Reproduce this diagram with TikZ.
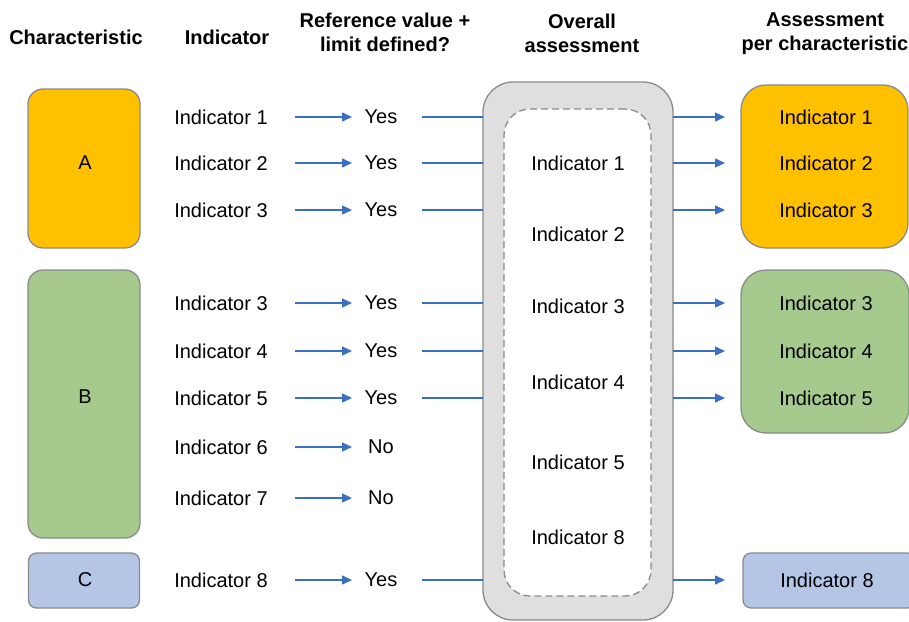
\documentclass[tikz,border=0pt]{standalone}
\usepackage{fontspec}
\setmainfont{Liberation Sans}
\usetikzlibrary{arrows.meta}
\definecolor{orng}{HTML}{FFC000}
\definecolor{grn}{HTML}{A6C98E}
\definecolor{blu}{HTML}{B4C5E6}
\definecolor{bord}{HTML}{8A8A8A}
\definecolor{arrblue}{HTML}{3A6FC4}
\definecolor{panel}{HTML}{DFDFDF}
\tikzset{
  txt/.style={inner sep=0pt, outer sep=0pt, font=\fontsize{20}{24}\selectfont},
  hdr/.style={inner sep=0pt, outer sep=0pt, align=center, font=\fontsize{20}{24}\selectfont\bfseries},
  cbox/.style={draw=bord, line width=1.3pt, inner sep=0pt, outer sep=0pt},
  indlab/.style={txt, minimum width=148pt},
  ynlab/.style={txt, minimum width=58pt},
  arr/.style={draw=arrblue, line width=1.4pt, -{Triangle[length=10pt,width=9pt]}},
  ln/.style={draw=arrblue, line width=1.4pt}
}
\begin{document}
\begin{tikzpicture}[x=1pt,y=-1pt]
\useasboundingbox (0,0) rectangle (909,621);
\clip (0,0) rectangle (909,621);

% headers
\node[hdr] (h1) at (76,37) {Characteristic};
\node[hdr] (h2) at (227,37) {Indicator};
\node[hdr] (h3) at (385,32) {Reference value +\\limit defined?};
\node[hdr] (h4) at (582,33) {Overall\\assessment};
\node[hdr] (h5) at (825,34) {Assessment\\per characteristic};

% left characteristic boxes
\node[cbox, fill=orng, rounded corners=15pt, minimum width=112pt, minimum height=159pt] (bA) at (84,168.5) {};
\node[txt] (tA) at (85,163) {A};
\node[cbox, fill=grn, rounded corners=15pt, minimum width=112pt, minimum height=268pt] (bB) at (84,404) {};
\node[txt] (tB) at (85,397) {B};
\node[cbox, fill=blu, rounded corners=8pt, minimum width=111pt, minimum height=55pt] (bC) at (84,580.5) {};
\node[txt] (tC) at (85,580) {C};

% overall assessment panel
\node[cbox, fill=panel, rounded corners=30pt, minimum width=190pt, minimum height=538pt] (ov) at (578,351) {};
\node[draw=bord, line width=1.3pt, dash pattern=on 7pt off 4pt, fill=white, rounded corners=26pt, minimum width=147pt, minimum height=487pt, inner sep=0pt] (inn) at (577.5,352.5) {};
\node[txt] (m1) at (578,163) {Indicator 1};
\node[txt] (m2) at (578,234) {Indicator 2};
\node[txt] (m3) at (578,306) {Indicator 3};
\node[txt] (m4) at (578,382) {Indicator 4};
\node[txt] (m5) at (578,462) {Indicator 5};
\node[txt] (m8) at (578,537) {Indicator 8};

% right boxes
\node[cbox, fill=orng, rounded corners=25pt, minimum width=167pt, minimum height=163pt] (rA) at (824.5,166.5) {};
\node[cbox, fill=grn, rounded corners=25pt, minimum width=168pt, minimum height=163pt] (rB) at (825,351.5) {};
\node[cbox, fill=blu, rounded corners=8pt, minimum width=172pt, minimum height=55pt] (rC) at (829,580.5) {};
\node[txt] (r1) at (826,117) {Indicator 1};
\node[txt] (r2) at (826,163) {Indicator 2};
\node[txt] (r3) at (826,210) {Indicator 3};
\node[txt] (r3b) at (826,303) {Indicator 3};
\node[txt] (r4) at (826,351) {Indicator 4};
\node[txt] (r5) at (826,398) {Indicator 5};
\node[txt] (r8) at (827,580) {Indicator 8};

% indicator rows
\foreach \n/\y/\lab/\yn in {1/117/Indicator 1/Yes, 2/163/Indicator 2/Yes, 3/210/Indicator 3/Yes,
  4/303/Indicator 3/Yes, 5/351/Indicator 4/Yes, 6/398/Indicator 5/Yes,
  7/447/Indicator 6/No, 8/498/Indicator 7/No, 9/580/Indicator 8/Yes}{
  \node[indlab] (i\n) at (221,\y) {\lab};
  \node[ynlab] (y\n) at (381,\y) {\yn};
  \draw[arr] (i\n.east) -- (y\n.west);
}

% lines into overall panel
\foreach \n in {1,2,3,4,5,6,9}{
  \draw[ln, shorten <=12pt] (y\n.east) -- (ov.west |- y\n);
}

% arrows out of overall panel
\foreach \t/\b in {r1/rA, r2/rA, r3/rA, r3b/rB, r4/rB, r5/rB}{
  \draw[arr, shorten >=16pt] (ov.east |- \t) -- (\b.west |- \t);
}
\draw[arr, shorten >=18pt] (ov.east |- r8) -- (rC.west |- r8);
\end{tikzpicture}
\end{document}
